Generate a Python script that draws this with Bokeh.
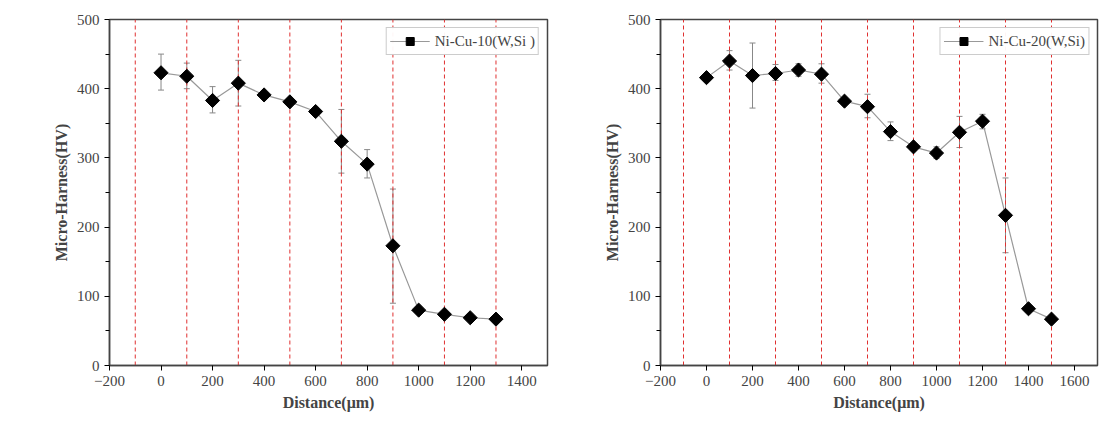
import math
from bokeh.plotting import figure
from bokeh.models import ColumnDataSource, Whisker, Label, Range1d, FixedTicker
from bokeh.layouts import row
from bokeh.embed import file_html
from bokeh.resources import INLINE

x_a = [0,100,200,300,400,500,600,700,800,900,1000,1100,1200,1300]
y_a = [423,418,383,408,391,381,367,324,291,173,80,74,69,67]
lo_a = [398,400,365,375,388,377,362,278,271,90,77,71,66,64]
hi_a = [450,437,403,441,394,385,373,370,312,255,83,77,72,70]
x_b = [0,100,200,300,400,500,600,700,800,900,1000,1100,1200,1300,1400,1500]
y_b = [416,440,419,422,427,421,382,374,338,316,307,337,353,217,82,67]
lo_b = [413,427,372,412,418,408,379,358,325,311,299,315,342,163,79,64]
hi_b = [419,455,466,435,436,436,385,392,352,321,316,360,363,271,85,70]
vlines_a = [-100,100,300,500,700,900,1100,1300]
vlines_b = [-100,100,300,500,700,900,1100,1300,1500]

SERIF = "Liberation Serif"

def make(x, y, lo, hi, vl, xr, xt, name, tag, w, h, bl, br, bt, bb, tagx, tagy):
    p = figure(width=w, height=h, output_backend="svg", toolbar_location=None,
               x_range=Range1d(*xr), y_range=Range1d(0, 500),
               min_border_left=bl, min_border_right=br, min_border_top=bt, min_border_bottom=bb)
    p.grid.visible = False
    p.outline_line_color = "#444444"
    p.outline_line_width = 1.5
    p.segment(x0=vl, x1=vl, y0=[0]*len(vl), y1=[500]*len(vl), line_color="#e03030",
              line_dash="4 3", line_width=1)
    src = ColumnDataSource(dict(x=x, y=y, lo=lo, hi=hi))
    w1 = Whisker(source=src, base="x", lower="lo", upper="hi", line_color="#888888")
    w1.upper_head.size = 6; w1.lower_head.size = 6
    w1.upper_head.line_color = "#888888"; w1.lower_head.line_color = "#888888"
    p.add_layout(w1)
    p.line("x", "y", source=src, line_color="#999999", line_width=1.2, legend_label=name)
    p.scatter("x", "y", source=src, marker="square", angle=math.pi/4, size=10,
              color="black", legend_label=name)
    p.legend.location = "top_right"
    p.legend.label_text_font = SERIF
    p.legend.label_text_font_size = "15px"
    p.legend.border_line_color = "#999999"
    p.legend.margin = 8
    p.legend.padding = 3
    p.legend.glyph_width = 40
    p.xaxis.ticker = FixedTicker(ticks=xt, minor_ticks=[])
    p.yaxis.ticker = FixedTicker(ticks=[0,100,200,300,400,500],
                                 minor_ticks=[50,150,250,350,450])
    for ax in (p.xaxis[0], p.yaxis[0]):
        ax.major_label_text_font = SERIF
        ax.major_label_text_font_size = "15px"
        ax.axis_label_text_font = SERIF
        ax.axis_label_text_font_style = "bold"
        ax.axis_label_text_font_size = "16px"
        ax.axis_line_color = "#444444"
        ax.axis_line_width = 1.5
        ax.major_tick_in = 0
        ax.major_tick_out = 5
    p.yaxis.axis_label_standoff = 4
    p.xaxis.major_label_overrides = {t: ("\u2212" + str(-t) if t < 0 else str(t)) for t in xt}
    p.xaxis.axis_label = "Distance(\u03bcm)"
    p.yaxis.axis_label = "Micro-Harness(HV)"
    p.add_layout(Label(x=tagx, y=tagy, x_units="screen", y_units="screen", text=tag,
                       text_font=SERIF, text_font_style="bold", text_font_size="34px"))
    return p

pa = make(x_a, y_a, lo_a, hi_a, vlines_a, (-200, 1500), list(range(-200, 1401, 200)),
          "Ni-Cu-10(W,Si )", "(a)", 555, 431, 109, 8, 19, 58, -97, 319)
pb = make(x_b, y_b, lo_b, hi_b, vlines_b, (-200, 1700), list(range(-200, 1601, 200)),
          "Ni-Cu-20(W,Si)", "(b)", 550, 431, 105, 8, 10, 66, -95, 316)
layout = row(pa, pb, spacing=0)
open("out.html", "w").write(file_html(layout, INLINE))
